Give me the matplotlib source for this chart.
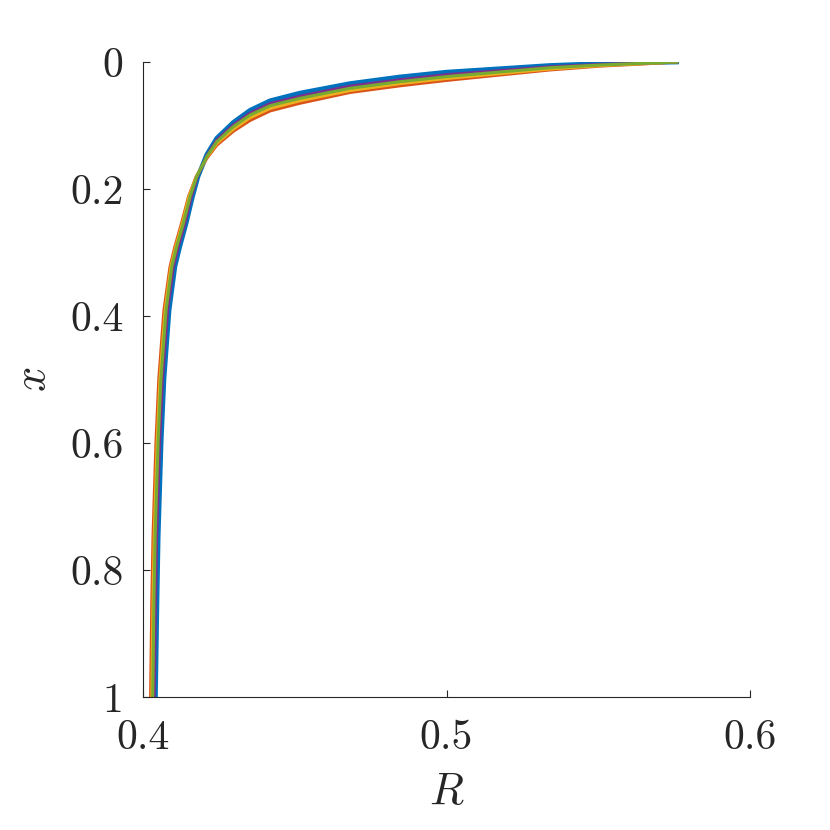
import matplotlib
matplotlib.use("Agg")
from matplotlib import pyplot as plt

plt.rcParams['font.family'] = 'serif'
plt.rcParams['font.serif'] = ['cmr10', 'DejaVu Serif']
plt.rcParams['mathtext.fontset'] = 'cm'
plt.rcParams['axes.unicode_minus'] = False

# upper branch: R sampled, x read per curve
R_top = [0.5758, 0.565, 0.5506, 0.5341, 0.5, 0.4847, 0.4682, 0.4517, 0.4419, 0.4353, 0.4298, 0.4243, 0.4210]
x_top_blue = [0, 0.001, 0.0025, 0.0055, 0.016, 0.0235, 0.034, 0.049, 0.061, 0.076, 0.095, 0.120, 0.146]
x_top_orange = [0, 0.003, 0.0065, 0.0125, 0.029, 0.0375, 0.048, 0.065, 0.077, 0.092, 0.109, 0.131, 0.152]
x_top_yellow = [0, 0.0025, 0.0057, 0.011, 0.026, 0.034, 0.045, 0.061, 0.073, 0.0875, 0.1055, 0.128, 0.1505]
x_top_purple = [0, 0.0015, 0.0038, 0.0075, 0.020, 0.028, 0.038, 0.054, 0.0655, 0.0805, 0.099, 0.123, 0.148]
x_top_green = [0, 0.002, 0.0047, 0.009, 0.023, 0.031, 0.0414, 0.0572, 0.0688, 0.0835, 0.1017, 0.1255, 0.1491]

# lower branch: x sampled, R read per curve
x_bot = [0.1806, 0.2121, 0.254, 0.2909, 0.3224, 0.3906, 0.448, 0.5, 0.595, 0.67, 0.7475, 0.85, 1.0]
R_bot_blue = [0.4181, 0.4163, 0.4142, 0.4121, 0.4105, 0.4086, 0.4077, 0.4069, 0.4060, 0.4055, 0.4050, 0.4046, 0.4041]
R_bot_orange = [0.4175, 0.4150, 0.4127, 0.4105, 0.4089, 0.4069, 0.4060, 0.4052, 0.4043, 0.4038, 0.4033, 0.4029, 0.4025]
R_bot_yellow = [0.4176, 0.4152, 0.4130, 0.4108, 0.4092, 0.4073, 0.4064, 0.4056, 0.4047, 0.4042, 0.4037, 0.4033, 0.4029]
R_bot_purple = [0.4179, 0.4159, 0.4138, 0.4116, 0.4100, 0.4081, 0.4072, 0.4064, 0.4055, 0.4050, 0.4045, 0.4041, 0.4037]
R_bot_green = [0.4177, 0.4155, 0.4133, 0.4111, 0.4095, 0.4076, 0.4067, 0.4059, 0.4050, 0.4045, 0.4040, 0.4036, 0.4032]

xticks = [0.4, 0.5, 0.6]
xticklabels = ['0.4', '0.5', '0.6']
yticks = [0, 0.2, 0.4, 0.6, 0.8, 1]
yticklabels = ['0', '0.2', '0.4', '0.6', '0.8', '1']

fig = plt.figure(figsize=(8.3, 8.3), dpi=100)
ax = fig.add_axes([143/830, 133/830, 607/830, 635/830])

curves = [
    (x_top_blue, R_bot_blue, '#0072BD', 3.4),
    (x_top_orange, R_bot_orange, '#D95319', 2.2),
    (x_top_yellow, R_bot_yellow, '#EDB120', 2.2),
    (x_top_purple, R_bot_purple, '#7E2F8E', 2.2),
    (x_top_green, R_bot_green, '#77AC30', 2.2),
]
for xt, Rb, col, lw in curves:
    ax.plot(R_top + Rb, xt + x_bot, '-', color=col, lw=lw, solid_joinstyle='round')

ax.set_xlim(0.4, 0.6)
ax.set_ylim(1, 0)
ax.set_xticks(xticks)
ax.set_xticklabels(xticklabels)
ax.set_yticks(yticks)
ax.set_yticklabels(yticklabels)

for s in ['top', 'right']:
    ax.spines[s].set_visible(False)
for s in ['left', 'bottom']:
    ax.spines[s].set_color('#262626')
    ax.spines[s].set_linewidth(0.8)
ax.tick_params(direction='in', length=5, width=0.8, colors='#262626', labelsize=30)
ax.tick_params(axis='y', pad=14)
ax.tick_params(axis='x', pad=16)

ax.set_xlabel('$R$', fontsize=32, color='#262626', labelpad=12)
ax.set_ylabel('$x$', fontsize=32, color='#262626', labelpad=12)

plt.savefig('out.png', dpi=100)
